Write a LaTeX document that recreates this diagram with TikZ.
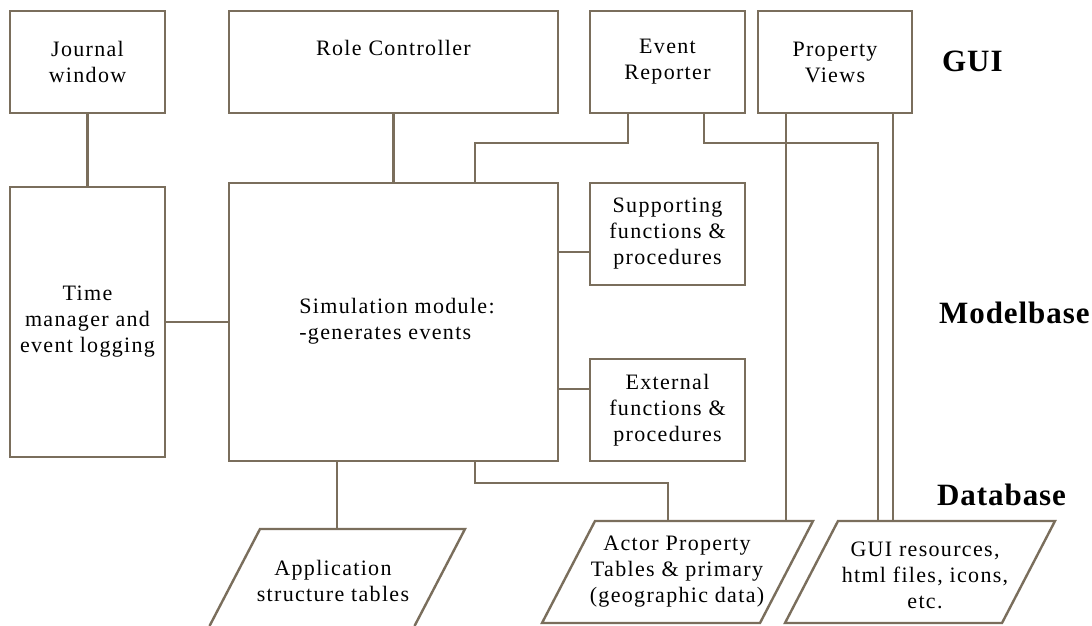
\documentclass[tikz,border=0pt]{standalone}
\usepackage{fontspec}
\setmainfont{Liberation Serif}[LetterSpace=6]
\newfontfamily\layerfont{Liberation Serif}[LetterSpace=3]
\definecolor{edge}{RGB}{122,110,92}
\begin{document}
\begin{tikzpicture}[x=1pt,y=-1pt,
  link/.style={draw=edge,line width=2.4pt},
  box/.style={draw=edge,line width=2.4pt,fill=white,inner sep=0pt,outer sep=0pt,align=center,
    font=\fontsize{22}{26}\selectfont},
  txt/.style={inner sep=0pt,align=center,font=\fontsize{22}{26}\selectfont},
  layer/.style={inner sep=0pt,anchor=base west,font=\layerfont\bfseries\fontsize{31}{36}\selectfont}]
\useasboundingbox[fill=white] (0,0) rectangle (1092,626);

% top row: GUI components
\node[box,minimum width=155pt,minimum height=102pt] (jw) at (87.5,62) {Journal\\window};
\node[box,minimum width=329pt,minimum height=102pt] (rc) at (393.5,62) {};
\node[txt] (rctext) at (393.5,48) {Role Controller};
\node[box,minimum width=155pt,minimum height=102pt] (er) at (667.5,62) {Event\\Reporter};
\node[box,minimum width=154pt,minimum height=102pt] (pv) at (835,62) {Property\\Views};

% middle row: model base
\node[box,minimum width=155pt,minimum height=270pt] (tm) at (87.5,322) {Time\\manager and\\event logging};
\node[box,minimum width=329pt,minimum height=278pt] (sim) at (393.5,322) {};
\node[txt,align=left] (simtext) at (397,321) {Simulation module:\\ -generates events};
\node[box,minimum width=155pt,minimum height=102pt] (sup) at (667.5,234) {Supporting\\functions \&\\procedures};
\node[box,minimum width=155pt,minimum height=102pt] (ext) at (667.5,410) {External\\functions \&\\procedures};

% bottom row: data stores
\coordinate (appTL) at (260,529);
\coordinate (appTR) at (465,529);
\coordinate (apptop) at (337,529);
\draw[link] (209.5,626) -- (appTL) -- (appTR) -- (414.5,626);
\node[txt] (app) at (333,581) {Application\\structure tables};

\coordinate (actTL) at (595,521);
\coordinate (actTR) at (813,521);
\coordinate (actBR) at (760,623);
\coordinate (actBL) at (542,623);
\draw[link,line join=miter] (actTL) -- (actTR) -- (actBR) -- (actBL) -- cycle;
\node[txt] (act) at (677,572) {Actor Property\\Tables \& primary\\(geographic data)};

\coordinate (guiTL) at (838,521);
\coordinate (guiTR) at (1055,521);
\coordinate (guiBR) at (1002,623);
\coordinate (guiBL) at (785,623);
\draw[link,line join=miter] (guiTL) -- (guiTR) -- (guiBR) -- (guiBL) -- cycle;
\node[txt] (gui) at (925,575) {GUI resources,\\html files, icons,\\etc.};

% layer names
\node[layer] (lgui) at (942,71) {GUI};
\node[layer] (lmodel) at (939,323) {Modelbase};
\node[layer] (ldb) at (937,505) {Database};

% connectors
\draw[link] (jw.south) -- (tm.north);
\draw[link] (rc.south) -- (sim.north);
\draw[link] (tm.east) -- (sim.west);
\draw[link] ([xshift=38pt]er.south west) -- ++(0,30) -| ([xshift=246pt]sim.north west);
\draw[link] ([xshift=114pt]er.south west) -- ++(0,30) -| ([xshift=40pt]guiTL);
\draw[link] ([xshift=28pt]pv.south west) -- ([xshift=28pt]pv.south west |- actTL);
\draw[link] ([xshift=135pt]pv.south west) -- ([xshift=135pt]pv.south west |- guiTL);
\draw[link] ([yshift=-18pt]sup.west) -- ([yshift=-18pt]sup.west -| sim.east);
\draw[link] ([yshift=21pt]ext.west) -- ([yshift=21pt]ext.west -| sim.east);
\draw[link] ([xshift=246pt]sim.south west) -- ++(0,22) -| ([xshift=73pt]actTL);
\draw[link] ([xshift=108pt]sim.south west) -- (apptop);
\end{tikzpicture}
\end{document}
